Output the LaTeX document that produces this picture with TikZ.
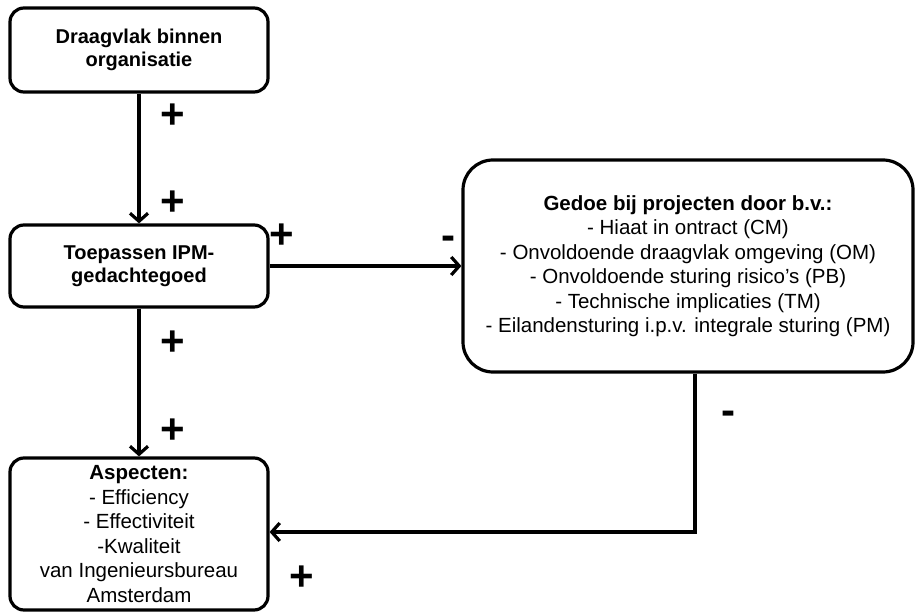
\documentclass[tikz,border=0pt]{standalone}
\usepackage{fontspec}
\setmainfont{Liberation Sans}
\usetikzlibrary{arrows.meta}
\begin{document}
\begin{tikzpicture}[x=1pt,y=1pt,
  box/.style={draw, line width=3.2pt, rounded corners=14pt, align=center,
    font=\fontsize{20.5}{24.5}\selectfont, inner sep=0pt, minimum width=258pt},
  boldbox/.style={box, font=\fontsize{20}{23}\selectfont\bfseries},
  conn/.style={line width=3.2pt, -{Straight Barb[length=8pt,width=18pt,line width=3.2pt]}},
  sign/.style={font=\fontsize{42}{42}\selectfont\bfseries, inner sep=0pt}]
\useasboundingbox (0,0) rectangle (915,-612);

\node[boldbox, minimum height=84pt] (b1) at (139,-50) {Draagvlak binnen\\organisatie};
\node[boldbox, minimum height=82pt] (b2) at (139,-266) {Toepassen IPM-\\gedachtegoed};
\node[box, minimum width=450pt, minimum height=212pt, rounded corners=30pt] (b3) at (688,-266)
  {{\bfseries Gedoe bij projecten door b.v.:}\\
   - Hiaat in ontract (CM)\\
   - Onvoldoende draagvlak omgeving (OM)\\
   - Onvoldoende sturing risico’s (PB)\\
   - Technische implicaties (TM)\\
   - Eilandensturing i.p.v. integrale sturing (PM)};
\node[box, minimum height=152pt] (b4) at (139,-534)
  {{\bfseries Aspecten:}\\
   - Efficiency\\
   - Effectiviteit\\
   -Kwaliteit\\
   van Ingenieursbureau\\
   Amsterdam};

\coordinate (c) at (695,-532);
\draw[conn] (b1.south) -- (b2.north);
\draw[conn] (b2.south) -- (b4.north);
\draw[conn] (b2.east) -- (b3.west);
\draw[conn] (b3.south -| c) -- (c) -- (b4.east |- c);

\node[sign] (p1) at (173,-116) {+};
\node[sign] (p2) at (173,-203) {+};
\node[sign] (p3) at (282,-236) {+};
\node[sign] (m1) at (448,-243) {-};
\node[sign] (p4) at (173,-343) {+};
\node[sign] (p5) at (173,-431) {+};
\node[sign] (m2) at (728,-418) {-};
\node[sign] (p6) at (302,-578) {+};
\end{tikzpicture}
\end{document}
